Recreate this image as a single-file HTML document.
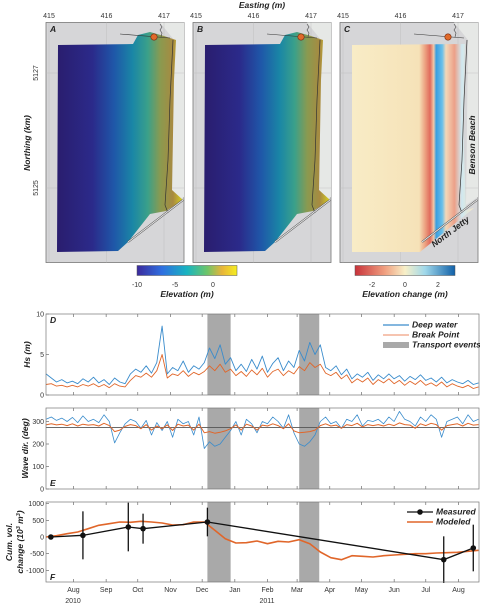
<!DOCTYPE html>
<html><head><meta charset="utf-8"><style>
body{margin:0;background:#fff;width:480px;height:605px;overflow:hidden;font-family:"Liberation Sans",sans-serif}
svg text{font-family:"Liberation Sans",sans-serif}
.ti{font-size:7px;fill:#333}
.lab{font-size:8.5px;font-weight:bold;font-style:italic;fill:#222}
</style></head><body>
<svg id="fig" width="480" height="605" viewBox="0 0 480 605" xmlns="http://www.w3.org/2000/svg">
<defs>
<linearGradient id="elev" x1="0" x2="1" y1="0" y2="0">
<stop offset="0" stop-color="#2a1d6e"/><stop offset="0.28" stop-color="#2b2a8a"/><stop offset="0.45" stop-color="#1f56a8"/>
<stop offset="0.6" stop-color="#1a86a6"/><stop offset="0.72" stop-color="#3aa08a"/><stop offset="0.82" stop-color="#8a9a50"/>
<stop offset="0.92" stop-color="#a88a40"/><stop offset="1" stop-color="#d9d320"/></linearGradient>
<linearGradient id="cbElev" x1="0" x2="1"><stop offset="0" stop-color="#3b2a9c"/><stop offset="0.25" stop-color="#2f6fe0"/><stop offset="0.5" stop-color="#18b4c0"/><stop offset="0.7" stop-color="#6cc56a"/><stop offset="0.85" stop-color="#e8b43a"/><stop offset="1" stop-color="#f5ee20"/></linearGradient>
<linearGradient id="cbDiff" x1="0" x2="1"><stop offset="0" stop-color="#c8323a"/><stop offset="0.3" stop-color="#f0a080"/><stop offset="0.5" stop-color="#f8f0c8"/><stop offset="0.7" stop-color="#a0d8ea"/><stop offset="1" stop-color="#1060a8"/></linearGradient>
<linearGradient id="diff" x1="0" x2="1"><stop offset="0" stop-color="#f8ecc6"/><stop offset="0.55" stop-color="#f6e2b8"/><stop offset="0.6" stop-color="#eca080"/><stop offset="0.64" stop-color="#e06a5c"/><stop offset="0.67" stop-color="#f0c8a8"/><stop offset="0.69" stop-color="#3a9ee0"/><stop offset="0.74" stop-color="#6ac0ea"/><stop offset="0.77" stop-color="#f4d8b8"/><stop offset="0.84" stop-color="#eca088"/><stop offset="0.9" stop-color="#d0e8f0"/><stop offset="1" stop-color="#f6e6c6"/></linearGradient>
</defs>
<g id="maps"></g>
<g id="ts"></g>
</svg>
<script>
// ===== data =====
const hsDeep=[2.6,2.1,1.6,1.9,1.5,1.7,1.4,2.0,1.6,2.2,1.5,1.9,1.3,2.1,1.6,1.4,2.6,3.2,2.8,3.6,2.7,4.0,8.5,2.6,3.4,3.0,4.2,2.8,3.6,3.2,4.0,5.8,4.5,6.2,3.8,4.6,3.0,3.8,2.9,4.4,3.2,4.8,2.8,3.9,4.6,3.0,4.2,3.4,5.5,4.2,6.5,5.0,6.2,3.4,3.0,3.6,2.5,3.2,2.0,2.6,2.2,2.8,1.8,2.5,2.0,2.6,2.0,2.4,1.7,2.3,1.9,2.5,1.8,2.1,1.6,2.2,1.5,1.9,1.6,1.4,1.8,1.3,1.5];
const hsBreak=[1.3,1.4,1.1,1.2,1.0,1.2,1.0,1.3,1.1,1.4,1.0,1.3,0.9,1.4,1.1,1.0,1.8,2.4,2.2,2.7,2.2,3.0,5.0,2.1,2.6,2.4,3.0,2.3,2.8,2.5,2.9,3.6,3.0,3.8,2.8,3.2,2.4,2.9,2.3,3.1,2.5,3.3,2.2,2.9,3.2,2.4,3.0,2.6,3.5,3.0,4.0,3.4,3.8,2.7,2.4,2.8,2.0,2.5,1.5,2.0,1.6,2.1,1.3,1.9,1.5,2.0,1.4,1.8,1.2,1.7,1.3,1.8,1.2,1.5,1.1,1.6,1.0,1.4,1.1,0.9,1.2,0.8,1.0];
const dirDeep=[310,320,305,315,300,318,295,325,300,310,295,330,300,205,250,290,310,300,270,305,240,295,260,300,230,310,290,300,240,320,180,210,190,200,230,260,300,240,310,290,250,300,290,320,300,270,330,250,200,190,210,240,300,320,290,300,270,310,300,330,280,305,300,310,290,320,300,345,310,300,280,320,300,330,310,230,300,310,320,290,330,300,310];
const dirBreak=[285,290,285,288,282,290,280,288,284,286,280,292,282,255,262,278,286,282,268,286,262,280,268,285,260,288,280,284,262,288,250,255,248,252,258,268,285,262,288,280,262,284,280,290,282,268,290,258,250,252,255,262,282,290,280,284,270,286,282,292,276,286,282,286,280,288,282,294,286,284,270,290,282,292,286,262,282,286,290,280,292,284,286];
const stepHs=5;
const modeled=[0,40,100,150,250,350,400,450,440,470,450,420,360,370,450,450,200,-50,-180,-170,-120,-200,-130,-150,-80,-200,-450,-620,-680,-560,-580,-600,-560,-540,-520,-500,-500,-480,-470,-460,-430,-400];
const stepMod=10;
const measDays=[4.6,35,78,92,153,377,405];
const measVals=[0,50,300,250,450,-680,-330];
const measErr=[60,720,730,450,430,700,700];
const events=[[153,175],[240,259]];
const monthNames=['Aug','Sep','Oct','Nov','Dec','Jan','Feb','Mar','Apr','May','Jun','Jul','Aug'];
const monthDays=[26,57,87,118,148,179,210,238,269,299,330,360,391];
const hsTicks=[0,5,10];
const dirTicks=[0,100,200,300];
const volTicks=[-1000,-500,0,500,1000];
const eastTicks=[415,416,417];
const northTicks=[5125,5127];
const cbElevTicks=[-10,-5,0];
const cbDiffTicks=[-2,0,2];

const NS='http://www.w3.org/2000/svg';
function mk(tag,attrs,parent,txt){const e=document.createElementNS(NS,tag);for(const k in attrs)e.setAttribute(k,attrs[k]);if(txt!==undefined)e.textContent=txt;parent.appendChild(e);return e;}
const X=d=>46+d*1.055;
const maps=document.getElementById('maps');
const ts=document.getElementById('ts');

// ===== maps =====
const panels=[{id:'A',dx:0,fill:'url(#elev)'},{id:'B',dx:147,fill:'url(#elev)'},{id:'C',dx:294,fill:'url(#diff)'}];
const ex=v=>49+(v-415)*57.5, ny=v=>188-(v-5125)*57.5;
panels.forEach(p=>{
 const g=mk('g',{},maps);
 
 
 mk('rect',{x:46+p.dx,y:22.5,width:138,height:240,fill:'#d6d6d8',stroke:'#777','stroke-width':0.8},g);
 mk('path',{d:`M${160+p.dx} 22.5 L${184+p.dx} 22.5 L${184+p.dx} 197 L${172+p.dx} 205 L${174+p.dx} 40 Z`,fill:'#e6e8e6'},g);
 eastTicks.forEach(t=>{const x=ex(t)+p.dx;mk('line',{x1:x,x2:x,y1:22.5,y2:262.5,stroke:'#bbb','stroke-width':0.4},g);
  const tl=mk('text',{x:x,y:18,'text-anchor':'middle',class:'ti'},g,t);
  
  });
 northTicks.forEach(t=>{mk('line',{x1:46+p.dx,x2:184+p.dx,y1:ny(t),y2:ny(t),stroke:'#bbb','stroke-width':0.4},g);});
 const d=p.id==='C'
  ?`M352 45 L465 44 L463 120 L466 210 L474 208 L420 252 L352 252 Z`
  :`M${58+p.dx} 45 L${133+p.dx} 44 L${138+p.dx} 35 L${150+p.dx} 32 L${164+p.dx} 36 L${176+p.dx} 40 L${174+p.dx} 80 L${172+p.dx} 190 L${183+p.dx} 200 L${166+p.dx} 211 L${150+p.dx} 214 L${128+p.dx} 242 L${118+p.dx} 251 L${57+p.dx} 252 Z`;
 const poly=mk('path',{d:d,fill:p.fill},g);
 
 
 mk('path',{d:`M${173+p.dx} 40 L${170+p.dx} 100 L${168+p.dx} 160 L${165+p.dx} 205 L${168+p.dx} 213`,stroke:'#333','stroke-width':0.7,fill:'none'},g);
 mk('line',{x1:128+p.dx,y1:242,x2:183+p.dx,y2:200,stroke:'#555','stroke-width':2},g);
 mk('line',{x1:128+p.dx,y1:242,x2:183+p.dx,y2:200,stroke:'#eee','stroke-width':0.8},g);
 mk('line',{x1:120+p.dx,y1:34,x2:170+p.dx,y2:38,stroke:'#333','stroke-width':0.6},g);
 mk('path',{d:`M${160+p.dx} 24 l2 3 -2 3 2 3 -1 4`,stroke:'#444','stroke-width':0.6,fill:'none'},g);
 const dot=mk('circle',{cx:154+p.dx,cy:37,r:3.2,fill:'#e06a2a',stroke:'#7a2a10','stroke-width':0.6},g);
 
 
 mk('text',{x:50+p.dx,y:32,class:'lab','font-size':'8'},g,p.id);
});
northTicks.forEach(t=>{const tl=mk('text',{x:38,y:ny(t),transform:`rotate(-90 38 ${ny(t)})`,'text-anchor':'middle',class:'ti'},maps,t);
 
 });
const et=mk('text',{x:262,y:8,'text-anchor':'middle',class:'lab'},maps,'Easting (m)');

const nt=mk('text',{x:30,y:143,'text-anchor':'middle',class:'lab',transform:'rotate(-90 30 143)'},maps,'Northing (km)');

const bb=mk('text',{x:475,y:145,'text-anchor':'middle',class:'lab','font-size':'9.5',transform:'rotate(-90 475 145)'},maps,'Benson Beach');

const nj=mk('text',{x:452,y:234,'text-anchor':'middle',class:'lab','font-size':'9.5',transform:'rotate(-37 452 234)'},maps,'North Jetty');

// colorbars
const cb1=mk('rect',{x:137,y:265.5,width:100,height:10,fill:'url(#cbElev)',stroke:'#555','stroke-width':0.5},maps);

cbElevTicks.forEach(t=>mk('text',{x:213+t*7.6,y:287,'text-anchor':'middle',class:'ti'},maps,t));
mk('text',{x:187,y:297,'text-anchor':'middle',class:'lab','font-size':'7.5'},maps,'Elevation (m)');
const cb2=mk('rect',{x:355,y:265.5,width:100,height:10,fill:'url(#cbDiff)',stroke:'#555','stroke-width':0.5},maps);

cbDiffTicks.forEach(t=>mk('text',{x:405+t*16.5,y:287,'text-anchor':'middle',class:'ti'},maps,t));
mk('text',{x:405,y:297,'text-anchor':'middle',class:'lab','font-size':'7.5'},maps,'Elevation change (m)');

// ===== time series =====
function panel(name,top,bot,ymin,ymax,ticks,title,letter,ly){
 const g=mk('g',{},ts);
 
 
 const Y=v=>bot-(v-ymin)/(ymax-ymin)*(bot-top);
 mk('rect',{x:46,y:top,width:433,height:bot-top,fill:'#fff'},g);
 events.forEach(e=>{const r=mk('rect',{x:X(e[0]),y:top,width:X(e[1])-X(e[0]),height:bot-top,fill:'#a9a9a9'},g);
  });
 ticks.forEach(t=>{mk('line',{x1:46,x2:49,y1:Y(t),y2:Y(t),stroke:'#555','stroke-width':0.6},g);
  mk('text',{x:44,y:Y(t)+2.5,'text-anchor':'end',class:'ti','font-size':'6.5'},g,t);});
 monthDays.forEach(d=>{mk('line',{x1:X(d),x2:X(d),y1:bot,y2:bot-3,stroke:'#555','stroke-width':0.6},g);mk('line',{x1:X(d),x2:X(d),y1:top,y2:top+3,stroke:'#555','stroke-width':0.6},g);});
 const cy=(top+bot)/2;
 if(title) mk('text',{x:ly,y:cy,'text-anchor':'middle',class:'lab',transform:`rotate(-90 ${ly} ${cy})`},g,title);
 return {g,Y};
}
function line(g,Y,arr,step,color,w,name){
 const pts=arr.map((v,i)=>X(i*step).toFixed(1)+','+Y(v).toFixed(1)).join(' ');
 const l=mk('polyline',{points:pts,fill:'none',stroke:color,'stroke-width':w,'stroke-linejoin':'round'},g);
 
 
}
// D
const D=panel('hs-panel',314,395,0,10,hsTicks,'Hs (m)','D',30);
line(D.g,D.Y,hsDeep,stepHs,'#3a8ccc',0.9,'deep-water-line');
line(D.g,D.Y,hsBreak,stepHs,'#e0662a',0.9,'break-point-line');
mk('rect',{x:46,y:314,width:433,height:81,fill:'none',stroke:'#777','stroke-width':0.7},D.g);
mk('text',{x:50,y:323,class:'lab'},D.g,'D');
const lg=mk('g',{},D.g);
mk('line',{x1:383,x2:409,y1:325,y2:325,stroke:'#3a8ccc','stroke-width':1.2},lg);
mk('text',{x:412,y:327.5,class:'lab','font-size':'6'},lg,'Deep water');
mk('line',{x1:383,x2:409,y1:335,y2:335,stroke:'#f0a080','stroke-width':1.2},lg);
mk('text',{x:412,y:337.5,class:'lab','font-size':'6'},lg,'Break Point');
mk('rect',{x:383,y:342,width:26,height:6,fill:'#a9a9a9'},lg);
mk('text',{x:412,y:347.5,class:'lab','font-size':'6'},lg,'Transport events');
// E
const E=panel('wave-direction-panel',408,489,0,360,dirTicks,'Wave dir. (deg)','E',28);
mk('line',{x1:46,x2:479,y1:E.Y(273),y2:E.Y(273),stroke:'#555','stroke-width':0.8},E.g);
line(E.g,E.Y,dirDeep,stepHs,'#3a8ccc',0.8,'deep-water-direction');
line(E.g,E.Y,dirBreak,stepHs,'#e0662a',1,'break-point-direction');
mk('rect',{x:46,y:408,width:433,height:81,fill:'none',stroke:'#777','stroke-width':0.7},E.g);
mk('text',{x:50,y:486,class:'lab'},E.g,'E');
// F
const F=panel('volume-change-panel',502,582,-1350,1050,volTicks,'','F',0);
mk('text',{x:12,y:542,'text-anchor':'middle',class:'lab',transform:'rotate(-90 12 542)'},F.g,'Cum. vol.');
const t2=mk('text',{x:23,y:542,'text-anchor':'middle',class:'lab',transform:'rotate(-90 23 542)'},F.g,'');
t2.innerHTML='change (10<tspan dy="-3" font-size="5.5">3</tspan><tspan dy="3"> m</tspan><tspan dy="-3" font-size="5.5">3</tspan><tspan dy="3">)</tspan>';
line(F.g,F.Y,modeled,stepMod,'#e0662a',1.6,'modeled-line');
measDays.forEach((d,i)=>{const l=mk('line',{x1:X(d),x2:X(d),y1:F.Y(measVals[i]+measErr[i]),y2:F.Y(measVals[i]-measErr[i]),stroke:'#111','stroke-width':1.3},F.g);
 });
mk('polyline',{points:measDays.map((d,i)=>X(d)+','+F.Y(measVals[i])).join(' '),fill:'none',stroke:'#111','stroke-width':1.3},F.g);
measDays.forEach((d,i)=>{const c=mk('circle',{cx:X(d),cy:F.Y(measVals[i]),r:2.8,fill:'#111'},F.g);
 });
mk('rect',{x:46,y:502,width:433,height:80,fill:'none',stroke:'#777','stroke-width':0.7},F.g);
mk('text',{x:50,y:580,class:'lab'},F.g,'F');
const lg2=mk('g',{},F.g);
mk('line',{x1:407,x2:433,y1:512,y2:512,stroke:'#111','stroke-width':1.3},lg2);
mk('circle',{cx:420,cy:512,r:2.8,fill:'#111'},lg2);
mk('text',{x:436,y:514.5,class:'lab','font-size':'6.5'},lg2,'Measured');
mk('line',{x1:407,x2:433,y1:522,y2:522,stroke:'#e0662a','stroke-width':1.6},lg2);
mk('text',{x:436,y:524.5,class:'lab','font-size':'6.5'},lg2,'Modeled');
monthDays.forEach((d,i)=>{const t=mk('text',{x:X(d),y:592,'text-anchor':'middle',class:'ti','font-size':'7.5'},ts,monthNames[i]);
 });
mk('text',{x:73,y:603,'text-anchor':'middle',class:'ti','font-size':'7.5'},ts,'2010');
mk('text',{x:267,y:603,'text-anchor':'middle',class:'ti','font-size':'7.5'},ts,'2011');
</script>
</body></html>
